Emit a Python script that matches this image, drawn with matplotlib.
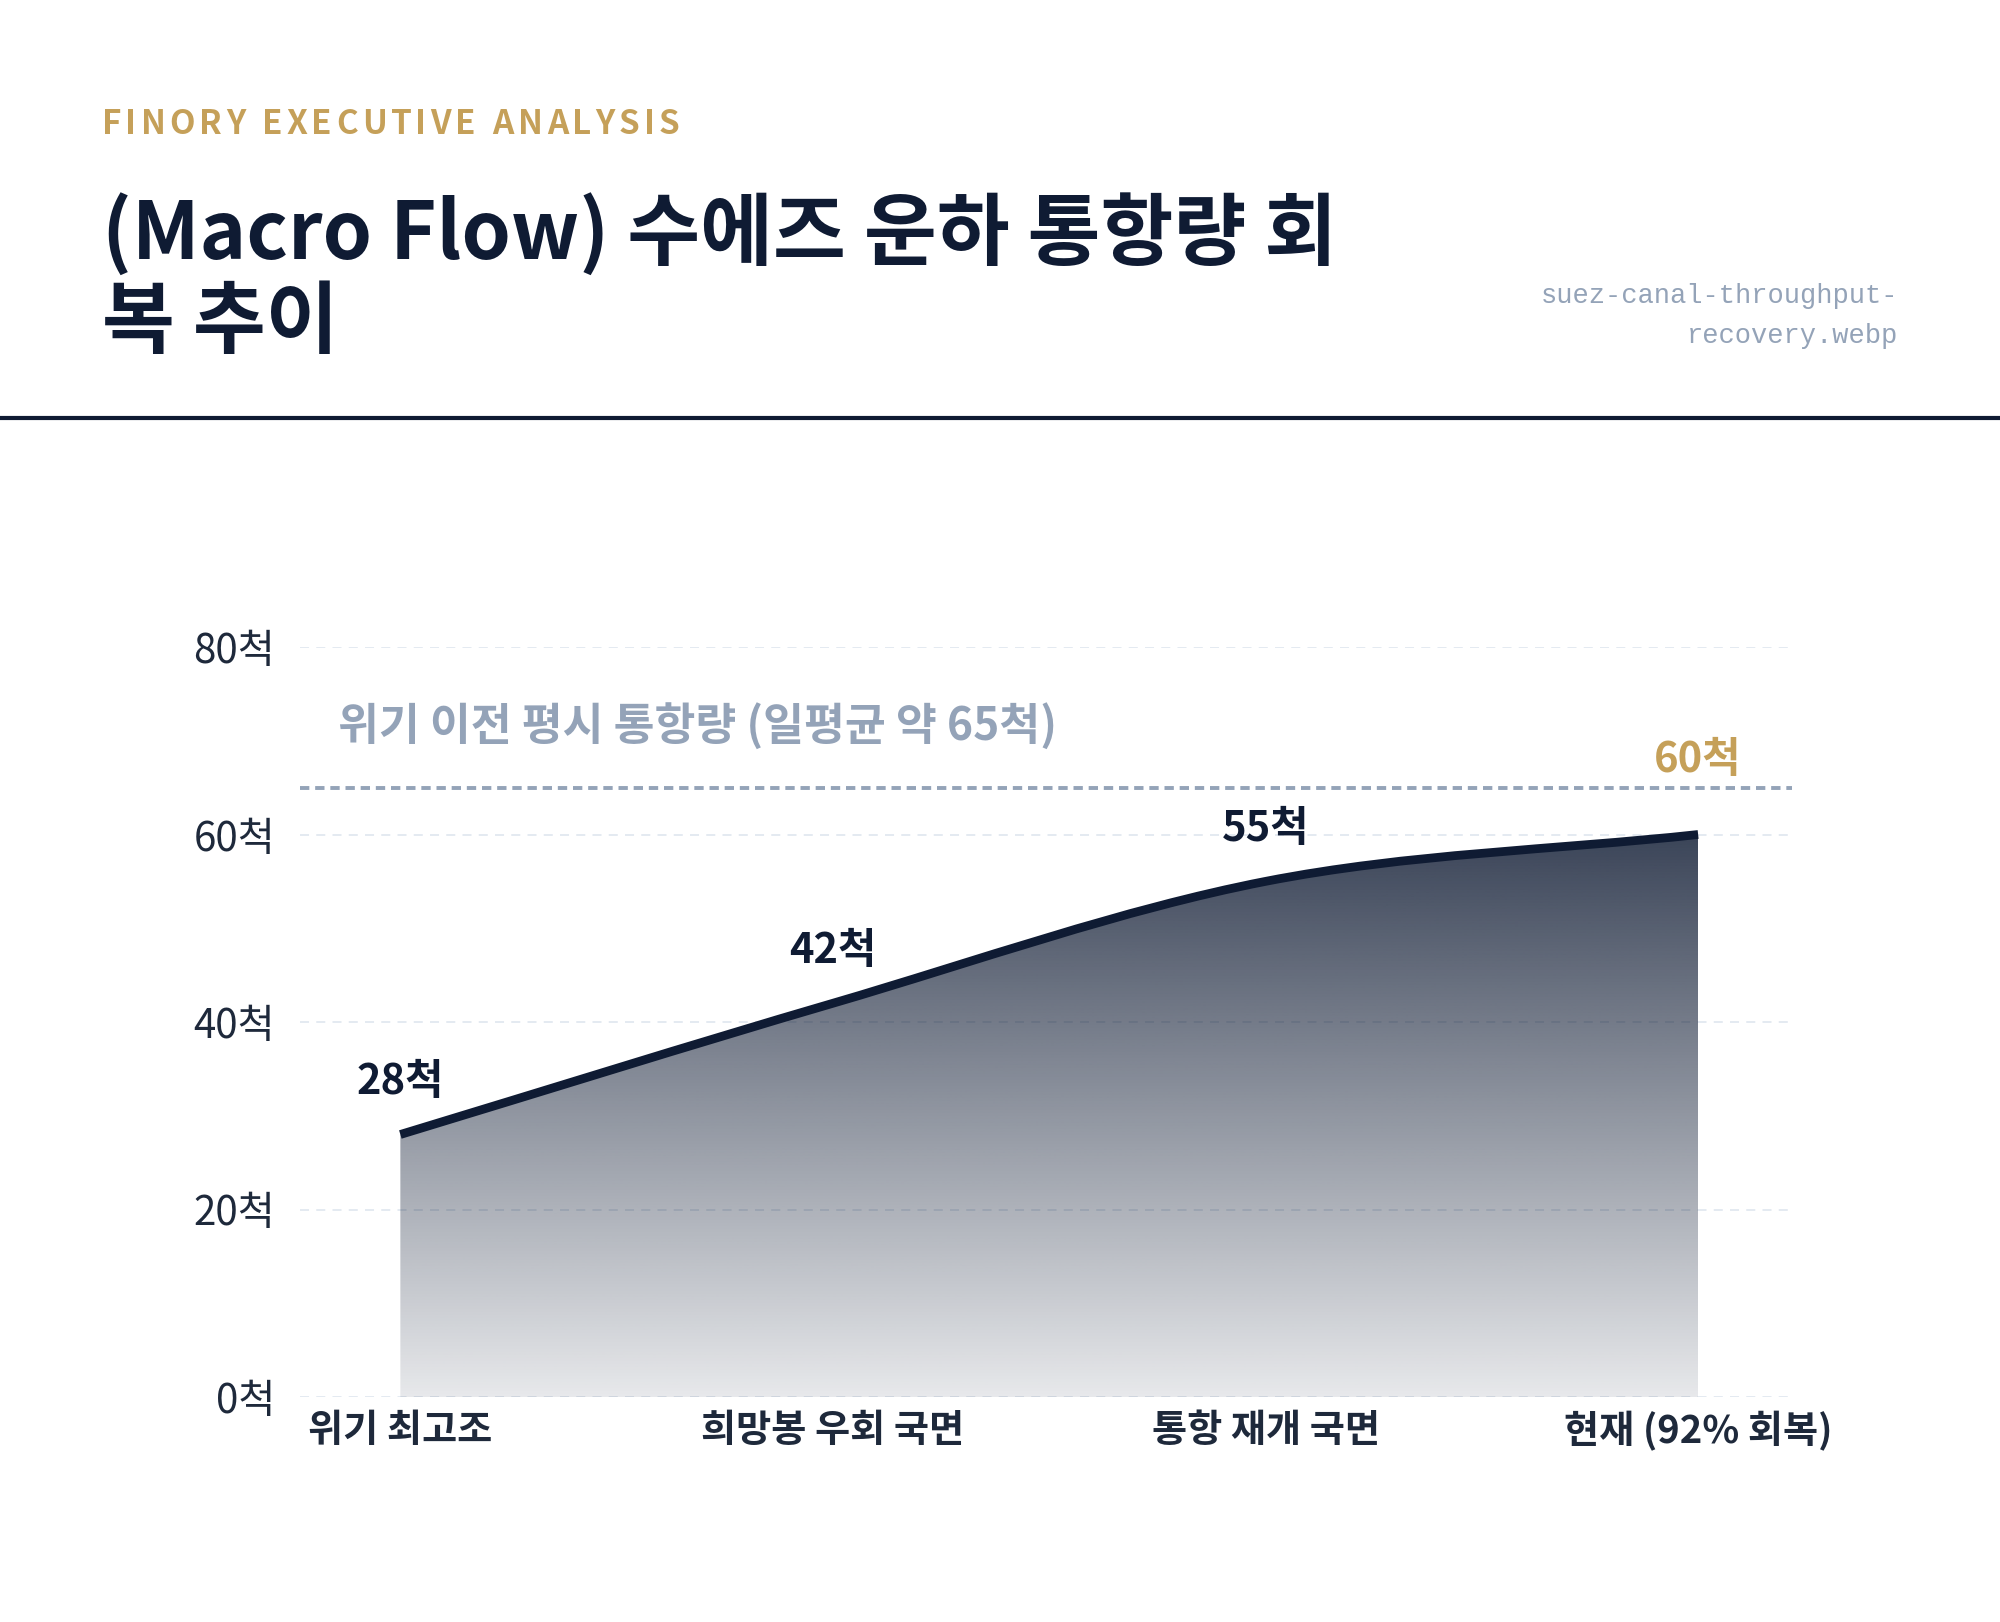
import numpy as np
import matplotlib
matplotlib.use("Agg")
import matplotlib.pyplot as plt
from matplotlib.path import Path
from matplotlib.patches import PathPatch
from matplotlib.colors import to_rgb

plt.rcParams['font.family'] = ['Noto Sans CJK KR', 'DejaVu Sans']

# data
categories = ['위기 최고조', '희망봉 우회 국면', '통항 재개 국면', '현재 (92% 회복)']
ships = [28, 42, 55, 60]
baseline = 65
y_ticks = [0, 20, 40, 60, 80]

NAVY = '#0F1B33'
GOLD = '#C5A059'
SLATE = '#94A3B8'
TEXT = '#1E293B'


def monotone_path(xs, ys):
    # monotone cubic (Fritsch-Carlson) as bezier segments
    xs = np.asarray(xs, float)
    ys = np.asarray(ys, float)
    d = np.diff(ys) / np.diff(xs)
    m = np.empty_like(ys)
    m[0], m[-1] = d[0], d[-1]
    for i in range(1, len(ys) - 1):
        m[i] = 0 if d[i - 1] * d[i] <= 0 else (d[i - 1] + d[i]) / 2
    for i in range(len(d)):
        if d[i] == 0:
            m[i] = m[i + 1] = 0
            continue
        a, b = m[i] / d[i], m[i + 1] / d[i]
        s = a * a + b * b
        if s > 9:
            t = 3 / np.sqrt(s)
            m[i], m[i + 1] = t * a * d[i], t * b * d[i]
    verts = [(xs[0], ys[0])]
    codes = [Path.MOVETO]
    for i in range(len(xs) - 1):
        h = xs[i + 1] - xs[i]
        verts += [(xs[i] + h / 3, ys[i] + m[i] * h / 3),
                  (xs[i + 1] - h / 3, ys[i + 1] - m[i + 1] * h / 3),
                  (xs[i + 1], ys[i + 1])]
        codes += [Path.CURVE4] * 3
    return verts, codes


fig = plt.figure(figsize=(20, 16.22), dpi=100)
fig.patch.set_facecolor('white')

# header
hx, hy = 102 / 2000, 1 - 125 / 1622
fig.canvas.draw()
renderer = fig.canvas.get_renderer()
cur = hx
for ch in 'FINORY EXECUTIVE ANALYSIS':
    t = fig.text(cur, hy, ch, fontsize=24, fontweight='bold', color=GOLD, va='center', ha='left')
    w = t.get_window_extent(renderer).width if ch != ' ' else 9
    cur += (w + 4.0) / 2000

fig.text(0.051, 1 - 234 / 1622, '(Macro Flow) 수에즈 운하 통항량 회', fontsize=57,
         fontweight='bold', color=NAVY, va='center', ha='left')
fig.text(0.051, 1 - 324 / 1622, '복 추이', fontsize=57,
         fontweight='bold', color=NAVY, va='center', ha='left')

fig.text(1898 / 2000, 1 - 296 / 1622, 'suez-canal-throughput-', fontsize=19.5,
         family='Liberation Mono', color=SLATE, ha='right', va='center')
fig.text(1898 / 2000, 1 - 336 / 1622, 'recovery.webp', fontsize=19.5,
         family='Liberation Mono', color=SLATE, ha='right', va='center')

fig.add_artist(plt.Line2D([0, 1], [1 - 418 / 1622] * 2, color=NAVY, linewidth=3,
                          transform=fig.transFigure))

# chart
ax = fig.add_axes([0.15, 1 - 1397 / 1622, 0.746, (1397 - 647) / 1622])
x = np.arange(len(categories))
ax.set_xlim(-0.232, 3.217)
ax.set_ylim(0, 80)

verts, codes = monotone_path(x, ships)
fill_verts = verts + [(x[-1], 0), (x[0], 0), (x[0], ships[0])]
fill_codes = codes + [Path.LINETO, Path.LINETO, Path.CLOSEPOLY]
fill_patch = PathPatch(Path(fill_verts, fill_codes), facecolor='none', edgecolor='none')
ax.add_patch(fill_patch)

top = max(ships)
rows = np.linspace(0, 1, 256)[:, None]
grad = np.zeros((256, 2, 4))
grad[..., :3] = to_rgb(NAVY)
grad[..., 3] = 0.1 + 0.72 * rows
img = ax.imshow(grad, extent=(x[0], x[-1], 0, top), origin='lower', aspect='auto',
                interpolation='bilinear', zorder=2)
img.set_clip_path(fill_patch)

ax.add_patch(PathPatch(Path(verts, codes), facecolor='none', edgecolor=NAVY,
                       linewidth=6.3, capstyle='butt', zorder=4, clip_on=False))

ax.axhline(baseline, color=SLATE, linewidth=2.8, linestyle=(0, (2.4, 1.5)), zorder=3)
ax.text(-0.1445, 71.5, '위기 이전 평시 통항량 (일평균 약 65척)', fontsize=32,
        fontweight='bold', color=SLATE, ha='left', va='center')

for i, v in enumerate(ships):
    last = i == len(ships) - 1
    ax.annotate(f'{v}척', (x[i], v), xytext=(0, 54 if last else 37.5),
                textcoords='offset points', ha='center', va='center', fontsize=30,
                fontweight='bold', color=GOLD if last else NAVY, zorder=5)

ax.set_yticks(y_ticks)
ax.set_yticklabels([f'{t}척' for t in y_ticks], fontsize=29, color=TEXT)
ax.set_xticks(x)
ax.set_xticklabels(categories, fontsize=27.5, fontweight='bold', color=TEXT)
ax.tick_params(axis='y', length=0, pad=18)
ax.tick_params(axis='x', length=0, pad=10)
ax.grid(axis='y', color='#E2E8F0', linestyle=(0, (5, 4)), linewidth=1.3, zorder=1)
ax.set_axisbelow(True)
for s in ax.spines.values():
    s.set_visible(False)

fig.savefig('out.png', dpi=100, facecolor='white')
